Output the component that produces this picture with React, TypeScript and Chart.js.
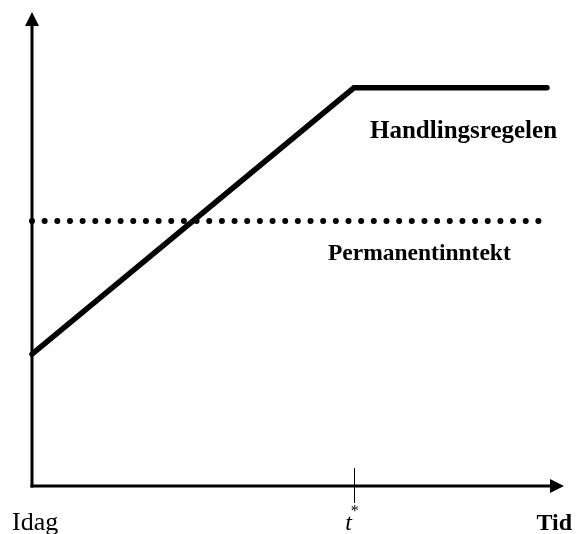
import React, { useEffect, useRef } from "react";
import { Chart, registerables } from "chart.js";

Chart.register(...registerables);

// Handlingsregelen (action rule) path
const ruleT = [0, 60.5, 96.8];
const ruleValues = [27.8, 84, 84];
// Permanentinntekt (permanent income) level
const permT = [0, 95.3];
const permValues = [55.9, 55.9];
// marker on time axis
const tStar = 60.5;
const xLabels = ["Idag", "t", "Tid"];
const seriesLabels = ["Handlingsregelen", "Permanentinntekt"];

const FONT = '"Liberation Serif", "Times New Roman", serif';

const overlay = {
  id: "overlay",
  beforeDatasetsDraw(chart: any) {
    const { ctx } = chart;
    const xs = chart.scales.x;
    const ys = chart.scales.y;
    const x0 = xs.getPixelForValue(0);
    const xEnd = xs.getPixelForValue(100);
    const y0 = ys.getPixelForValue(0);
    const yTop = ys.getPixelForValue(100);
    ctx.save();
    ctx.strokeStyle = "#000";
    ctx.fillStyle = "#000";
    ctx.lineWidth = 3;
    ctx.lineCap = "butt";
    // y axis
    ctx.beginPath();
    ctx.moveTo(x0, y0 + 1.5);
    ctx.lineTo(x0, yTop + 10);
    ctx.stroke();
    // x axis
    ctx.beginPath();
    ctx.moveTo(x0 - 1.5, y0);
    ctx.lineTo(xEnd - 10, y0);
    ctx.stroke();
    // arrowheads
    ctx.beginPath();
    ctx.moveTo(x0, yTop);
    ctx.lineTo(x0 - 7, yTop + 14);
    ctx.lineTo(x0 + 7, yTop + 14);
    ctx.closePath();
    ctx.fill();
    ctx.beginPath();
    ctx.moveTo(xEnd, y0);
    ctx.lineTo(xEnd - 14, y0 - 7);
    ctx.lineTo(xEnd - 14, y0 + 7);
    ctx.closePath();
    ctx.fill();
    // t* tick
    const xt = Math.round(xs.getPixelForValue(tStar)) + 0.5;
    ctx.lineWidth = 1;
    ctx.beginPath();
    ctx.moveTo(xt, y0 - 18);
    ctx.lineTo(xt, y0 + 17);
    ctx.stroke();
    ctx.restore();
  },
  afterDatasetsDraw(chart: any) {
    const { ctx } = chart;
    const xs = chart.scales.x;
    const ys = chart.scales.y;
    const x0 = xs.getPixelForValue(0);
    const xEnd = xs.getPixelForValue(100);
    const y0 = ys.getPixelForValue(0);
    ctx.save();
    ctx.fillStyle = "#000";
    ctx.textBaseline = "alphabetic";
    const base = y0 + 44;
    // Idag
    ctx.font = `26px ${FONT}`;
    ctx.textAlign = "left";
    ctx.fillText(xLabels[0], x0 - 20, base);
    // t*
    const xt = xs.getPixelForValue(tStar);
    ctx.font = `italic 24px ${FONT}`;
    ctx.textAlign = "right";
    ctx.fillText(xLabels[1], xt - 2, base);
    ctx.font = `16px ${FONT}`;
    ctx.textAlign = "left";
    ctx.fillText("*", xt - 3, base - 14);
    // Tid
    ctx.font = `bold 24px ${FONT}`;
    ctx.textAlign = "right";
    ctx.fillText(xLabels[2], xEnd + 8, base);
    // series labels
    ctx.textAlign = "left";
    ctx.font = `bold 25px ${FONT}`;
    ctx.fillText(seriesLabels[0], 370, ys.getPixelForValue(ruleValues[1]) + 50);
    ctx.font = `bold 23.5px ${FONT}`;
    ctx.fillText(seriesLabels[1], 328, ys.getPixelForValue(permValues[0]) + 39);
    ctx.restore();
  },
};

export default function App() {
  const ref = useRef<HTMLCanvasElement>(null);
  useEffect(() => {
    if (!ref.current) return;
    const chart = new Chart(ref.current, {
      type: "line",
      data: {
        datasets: [
          {
            label: seriesLabels[0],
            data: ruleT.map((t, i) => ({ x: t, y: ruleValues[i] })),
            borderColor: "#000",
            borderWidth: 5.5,
            borderCapStyle: "round",
            borderJoinStyle: "miter",
            pointRadius: 0,
            tension: 0,
            clip: false as any,
            order: 0,
          },
          {
            label: seriesLabels[1],
            data: permT.map((t, i) => ({ x: t, y: permValues[i] })),
            borderColor: "#000",
            borderWidth: 6,
            borderCapStyle: "round",
            borderDash: [0, 12.66],
            pointRadius: 0,
            tension: 0,
            clip: false as any,
            order: 1,
          },
        ],
      },
      options: {
        animation: false,
        responsive: false,
        layout: { padding: { left: 32, right: 12, top: 12, bottom: 48 } },
        plugins: { legend: { display: false }, tooltip: { enabled: false } },
        scales: {
          x: { type: "linear", min: 0, max: 100, display: false },
          y: { type: "linear", min: 0, max: 100, display: false },
        },
      },
      plugins: [overlay],
    });
    return () => chart.destroy();
  }, []);
  return (
    <div style={{ position: "absolute", left: 0, top: 0, width: 576, height: 534, background: "#fff" }}>
      <canvas ref={ref} width={576} height={534} />
    </div>
  );
}
